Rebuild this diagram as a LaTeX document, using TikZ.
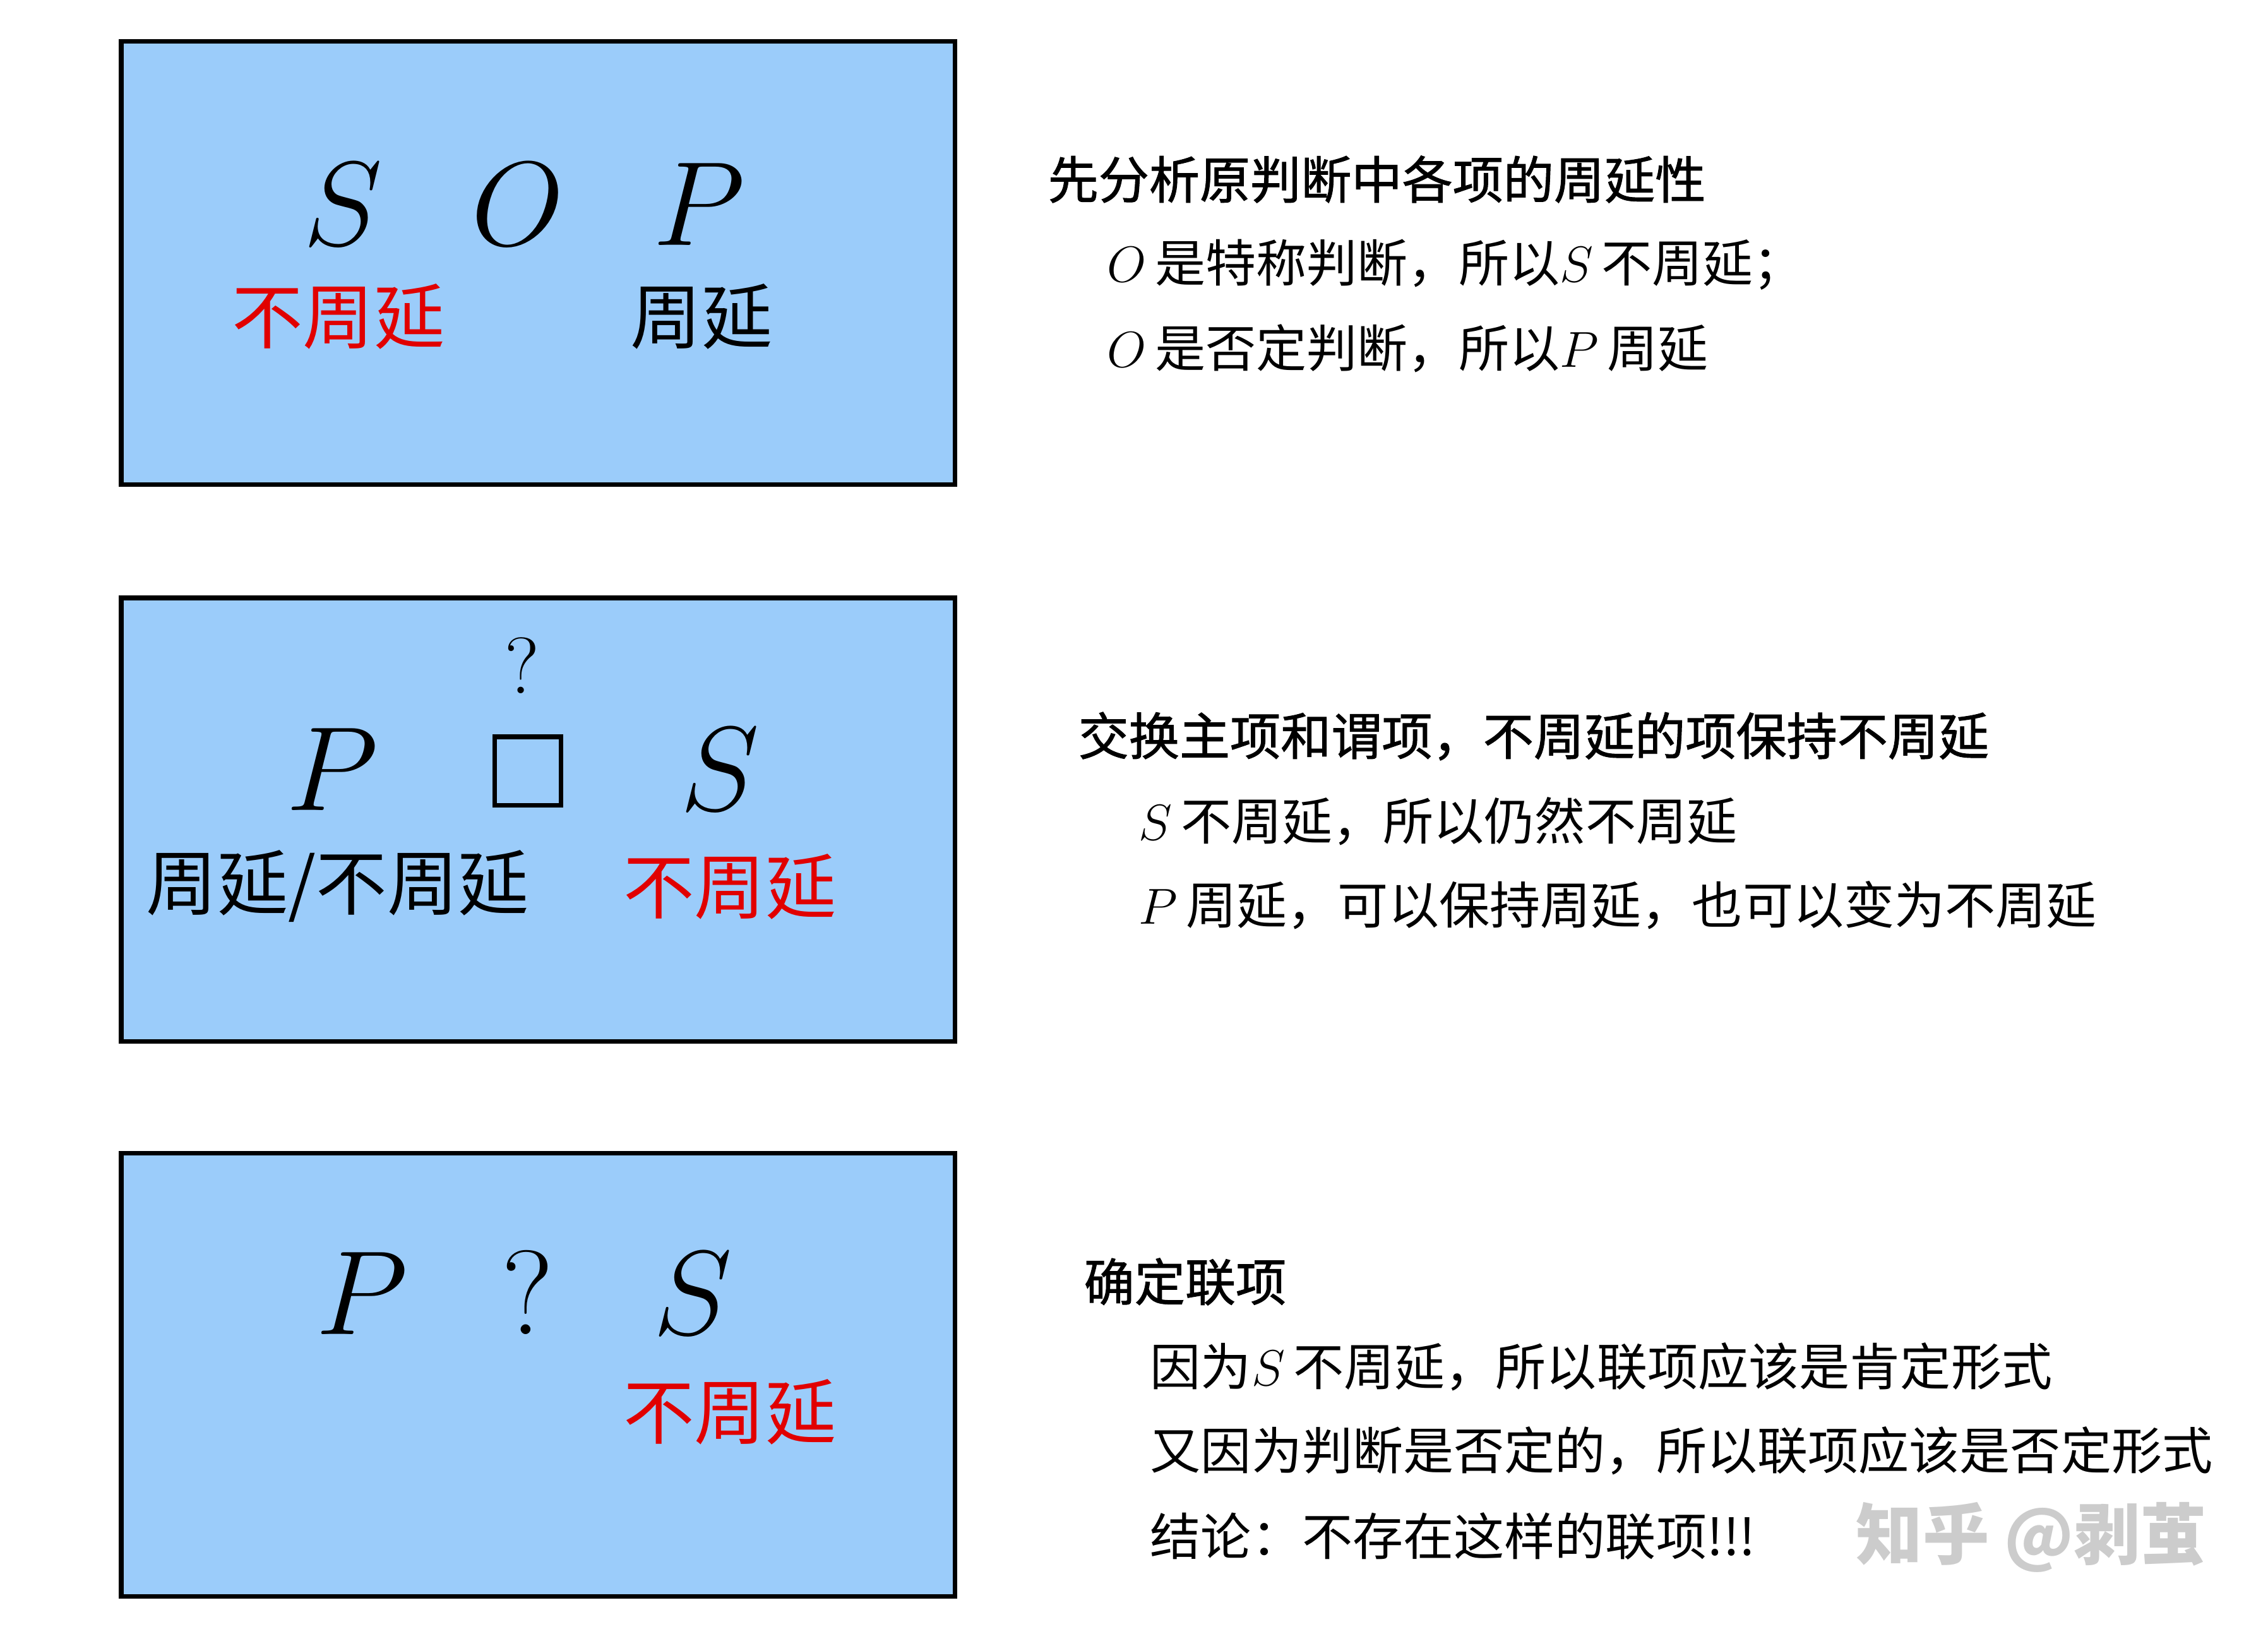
\RequirePackage{fix-cm}
\documentclass[tikz,border=0pt]{standalone}
\usepackage{amsmath}
\usepackage{xcolor}
\usepackage{fontspec}
\newfontfamily\cjk{Noto Sans CJK SC}
\newfontfamily\cjkhead[FakeBold=1.2]{Noto Sans CJK SC}
\usepackage{tikz}
\definecolor{panelblue}{RGB}{155,204,250}
\definecolor{termred}{RGB}{225,0,0}

\tikzset{
  panel/.style={draw=black, line width=2pt, fill=panelblue, minimum width=13.2cm, minimum height=7.02cm, inner sep=0pt},
  term/.style={anchor=base, inner sep=0pt, font=\fontsize{54}{60}\selectfont},
  dist/.style={inner sep=0pt, font=\cjk\fontsize{32}{36}\selectfont},
  note/.style={anchor=west, inner sep=0pt, font=\cjk\fontsize{22.8}{26}\selectfont},
  head/.style={note, font=\cjkhead\fontsize{22.8}{26}\selectfont},
}

\begin{document}
\begin{tikzpicture}
\useasboundingbox (0,0) rectangle (35.92,-25.87);
% step 1
\node[panel] (box1) at (8.52,-4.165) {};
\node[term] (s1) at (5.43,-3.89) {$S$};
\node[term] (o1) at (8.20,-3.89) {$O$};
\node[term] (p1) at (11.07,-3.89) {$P$};
\node[dist, text=termred] (s1d) at (5.36,-5.01) {不周延};
\node[dist] (p1d) at (11.11,-5.01) {周延};
\node[head] (h1) at (16.59,-2.84) {先分析原判断中各项的周延性};
\node[note] (a1) at (17.53,-4.19) {$O$\,是特称判断，所以$S$\,不周延；};
\node[note] (b1) at (17.53,-5.52) {$O$\,是否定判断，所以$P$\,周延};
% step 2
\node[panel] (box2) at (8.52,-12.98) {};
\node[inner sep=0pt, font=\fontsize{36}{40}\selectfont] (q2) at (8.27,-10.54) {?};
\node[draw, line width=2pt, minimum width=1.05cm, minimum height=1.08cm, inner sep=0pt] (c2) at (8.36,-12.21) {};
\node[term] (p2) at (5.26,-12.83) {$P$};
\node[term] (s2) at (11.40,-12.83) {$S$};
\node[dist] (p2d) at (5.35,-14.04) {周延/不周延};
\node[dist, text=termred] (s2d) at (11.56,-14.04) {不周延};
\node[head] (h2) at (17.07,-11.66) {交换主项和谓项，不周延的项保持不周延};
\node[note] (a2) at (18.03,-13.01) {$S$\,不周延，所以仍然不周延};
\node[note] (b2) at (18.03,-14.34) {$P$\,周延，可以保持周延，也可以变为不周延};
% step 3
\node[panel] (box3) at (8.52,-21.775) {};
\node[term] (p3) at (5.73,-21.13) {$P$};
\node[term] (q3) at (8.36,-21.13) {?};
\node[term] (s3) at (10.97,-21.13) {$S$};
\node[dist, text=termred] (s3d) at (11.56,-22.36) {不周延};
\node[head] (h3) at (17.16,-20.30) {确定联项};
\node[note] (a3) at (18.21,-21.65) {因为$S$\,不周延，所以联项应该是肯定形式};
\node[note] (b3) at (18.21,-22.98) {又因为判断是否定的，所以联项应该是否定形式};
\node[note] (c3) at (18.21,-24.33) {结论：不存在这样的联项!!!};
\node[anchor=west, inner sep=0pt, text=gray!40, font=\cjk\bfseries\fontsize{30}{34}\selectfont] (mark) at (29.39,-24.35) {知乎 @剥茧};
\end{tikzpicture}
\end{document}
